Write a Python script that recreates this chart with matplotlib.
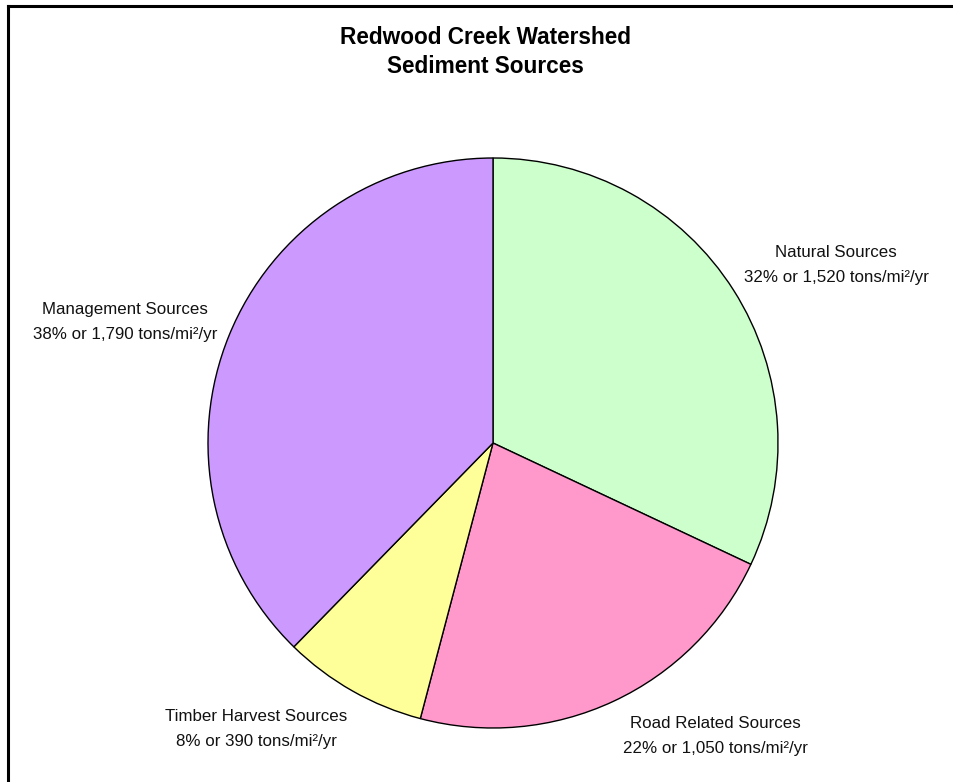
import matplotlib
matplotlib.use("Agg")
import matplotlib.pyplot as plt
from matplotlib.lines import Line2D

plt.rcParams['font.family'] = ['Liberation Sans', 'DejaVu Sans']

title = "Redwood Creek Watershed\nSediment Sources"
categories = ["Natural Sources", "Road Related Sources", "Timber Harvest Sources", "Management Sources"]
values = [1520, 1050, 390, 1790]
percents = ["32%", "22%", "8%", "38%"]
value_labels = ["1,520", "1,050", "390", "1,790"]
colors = ["#CCFFCC", "#FF99CC", "#FFFF99", "#CC99FF"]

# label centres in figure pixels (layout)
label_pos = [(836, 265), (715, 736), (256, 729), (125, 322)]

W, H = 954, 782
fig = plt.figure(figsize=(W / 100, H / 100), dpi=100)
fig.patch.set_facecolor("white")

cx, cy, r = 493, 443, 285
ax = fig.add_axes([(cx - r) / W, (H - cy - r) / H, 2 * r / W, 2 * r / H])
ax.pie(values, colors=colors, startangle=90, counterclock=False,
       wedgeprops=dict(edgecolor="black", linewidth=1.0))
ax.set_xlim(-1, 1)
ax.set_ylim(-1, 1)
ax.set_aspect("auto")
ax.axis("off")

for cat, p, v, (px, py) in zip(categories, percents, value_labels, label_pos):
    fig.text(px / W, 1 - py / H, f"{cat}\n{p} or {v} tons/mi\u00b2/yr",
             ha="center", va="center", fontsize=12.2, linespacing=1.8, color="#111111")

fig.text(485 / W, 1 - 52 / H, title, ha="center", va="center",
         fontsize=16.3, fontweight="bold", linespacing=1.36)

# border lines top and left
fig.add_artist(Line2D([8 / W, 1], [1 - 6 / H, 1 - 6 / H], color="black", linewidth=2.2,
                      transform=fig.transFigure))
fig.add_artist(Line2D([8 / W, 8 / W], [0, 1 - 6 / H], color="black", linewidth=2.2,
                      transform=fig.transFigure))

fig.savefig("out.png", dpi=100)
